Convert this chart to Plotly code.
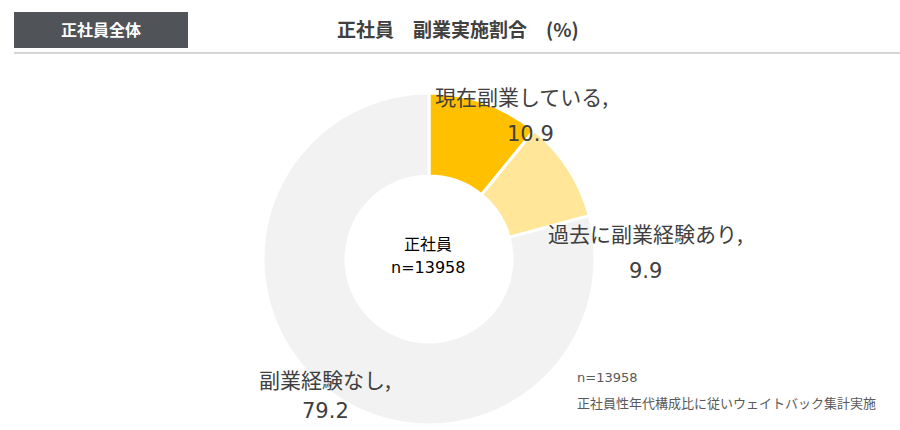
import plotly.graph_objects as go

labels = ['現在副業している', '過去に副業経験あり', '副業経験なし']
values = [10.9, 9.9, 79.2]
colors = ['#FFC000', '#FFE699', '#F2F2F2']
n_total = 13958

W, H = 900, 430
FONT = 'Noto Sans CJK JP'
NUM_FONT = 'DejaVu Sans, Noto Sans CJK JP'


def px_x(x):
    return x / W


def px_y(y):
    return 1 - y / H


def note(x, y, text, size, color, family=FONT, xanchor='center'):
    return dict(x=px_x(x), y=px_y(y), text=text, showarrow=False,
                xref='paper', yref='paper', xanchor=xanchor, yanchor='middle',
                font=dict(family=family, size=size, color=color))


fig = go.Figure(go.Pie(
    labels=labels,
    values=values,
    hole=0.5,
    sort=False,
    direction='clockwise',
    rotation=0,
    marker=dict(colors=colors, line=dict(color='white', width=3)),
    textinfo='none',
    hoverinfo='label+value',
    showlegend=False,
    domain=dict(x=[px_x(263), px_x(595)], y=[px_y(425), px_y(93)]),
))

# slice labels, placed like the original
label_pos = [(521, 96, 530, 134), (645, 233, 645, 271), (325, 379, 325, 411)]
annotations = []
for (lab, val), (lx, ly, vx, vy) in zip(zip(labels, values), label_pos):
    annotations.append(note(lx, ly, lab + ',', 21, '#404040'))
    annotations.append(note(vx, vy, f'{val:.1f}', 21, '#404040', family=NUM_FONT))

annotations += [
    note(428, 243, '正社員', 16, '#000000'),
    note(428, 267, f'n={n_total}', 16, '#000000', family=NUM_FONT),
    note(101, 29, '<b>正社員全体</b>', 16, 'white'),
    note(458, 28, '<b>正社員　副業実施割合　(%)</b>', 19, '#404040'),
    note(575, 377, f'n={n_total}', 13, '#595959', family=NUM_FONT, xanchor='left'),
    note(575, 402, '正社員性年代構成比に従いウェイトバック集計実施', 13, '#595959', xanchor='left'),
]

fig.update_layout(
    width=W, height=H,
    margin=dict(l=0, r=0, t=0, b=0),
    paper_bgcolor='white',
    plot_bgcolor='white',
    annotations=annotations,
    shapes=[
        dict(type='rect', xref='paper', yref='paper',
             x0=px_x(14), x1=px_x(188), y0=px_y(48), y1=px_y(12),
             fillcolor='#505358', line=dict(width=0), layer='below'),
        dict(type='line', xref='paper', yref='paper',
             x0=px_x(14), x1=px_x(900), y0=px_y(53), y1=px_y(53),
             line=dict(color='#C8C8C8', width=1.5)),
    ],
)

fig.write_html('out.html', config={'displayModeBar': False},
               post_script="document.body.style.margin='0';")
